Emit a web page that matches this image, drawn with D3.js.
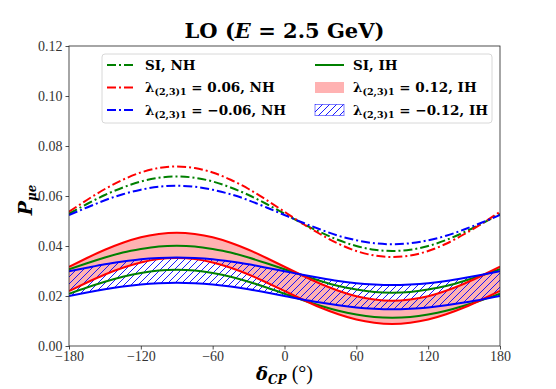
<!DOCTYPE html>
<html lang="en">
<head>
<meta charset="UTF-8" />
<title>LO (E = 2.5 GeV)</title>
<script src="https://d3js.org/d3.v7.min.js"></script>
<style>
  body { margin: 0; background: #fff; }
  svg { display: block; }
</style>
</head>
<body>
<svg id="chart"></svg>
<script>
// delta_CP grid (degrees)
const deltaCP = d3.range(-180, 181, 15);

// NH curves (dash-dot)
const siNH     = [.0529,.0568,.0604,.0634,.0658,.0673,.0678,.0673,.0658,.0634,.0604,.0568,.0529,.0490,.0455,.0424,.0400,.0385,.0380,.0385,.0400,.0424,.0455,.0490,.0529];
const lamPosNH = [.0537,.0584,.0628,.0665,.0694,.0712,.0718,.0712,.0694,.0665,.0628,.0584,.0537,.0490,.0447,.0409,.0380,.0362,.0356,.0362,.0380,.0409,.0447,.0490,.0537];
const lamNegNH = [.0524,.0554,.0583,.0607,.0625,.0637,.0641,.0637,.0625,.0607,.0583,.0554,.0524,.0494,.0466,.0441,.0423,.0411,.0407,.0411,.0423,.0441,.0466,.0494,.0524];

// IH curves (solid), two bounds each
const siIHUp   = [.0307,.0331,.0354,.0374,.0388,.0398,.0401,.0398,.0388,.0374,.0354,.0331,.0307,.0283,.0260,.0240,.0226,.0216,.0213,.0216,.0226,.0240,.0260,.0283,.0307];
const siIHLo   = [.0209,.0234,.0257,.0277,.0292,.0302,.0305,.0302,.0292,.0277,.0257,.0234,.0209,.0184,.0161,.0141,.0126,.0116,.0113,.0116,.0126,.0141,.0161,.0184,.0209];
const lamPosIHUp = [.0317,.0352,.0385,.0413,.0435,.0448,.0453,.0448,.0435,.0413,.0385,.0352,.0317,.0282,.0249,.0221,.0199,.0186,.0181,.0186,.0199,.0221,.0249,.0282,.0317];
const lamPosIHLo = [.0220,.0254,.0286,.0313,.0334,.0348,.0352,.0348,.0334,.0313,.0286,.0254,.0220,.0186,.0154,.0127,.0106,.0093,.0088,.0093,.0106,.0127,.0154,.0186,.0220];
const lamNegIHUp = [.0299,.0313,.0327,.0338,.0347,.0352,.0354,.0352,.0347,.0338,.0327,.0313,.0299,.0285,.0272,.0260,.0251,.0246,.0244,.0246,.0251,.0260,.0272,.0285,.0299];
const lamNegIHLo = [.0200,.0214,.0227,.0238,.0246,.0251,.0253,.0251,.0246,.0238,.0227,.0214,.0200,.0186,.0174,.0163,.0154,.0149,.0147,.0149,.0154,.0163,.0174,.0186,.0200];

const xTicks = [-180, -120, -60, 0, 60, 120, 180];
const yTicks = [0, 0.02, 0.04, 0.06, 0.08, 0.10, 0.12];

const W = 556, H = 389;
const margin = { top: 46, right: 56, bottom: 43, left: 69 };
const width = W - margin.left - margin.right;
const height = H - margin.top - margin.bottom;

const svgRoot = d3.select("#chart").attr("width", W).attr("height", H);
const defs = svgRoot.append("defs");

// hatch "//" pattern
const hatch = defs.append("pattern")
  .attr("id", "hatch")
  .attr("patternUnits", "userSpaceOnUse")
  .attr("width", 7).attr("height", 7);
hatch.append("path")
  .attr("d", "M-1,1 l2,-2 M0,7 l7,-7 M6,8 l2,-2")
  .attr("stroke", "#0000ff").attr("stroke-width", 0.9);

defs.append("clipPath").attr("id", "clip")
  .append("rect").attr("width", width).attr("height", height);

const svg = svgRoot.append("g")
  .attr("transform", `translate(${margin.left},${margin.top})`);

const x = d3.scaleLinear().domain([-180, 180]).range([0, width]);
const y = d3.scaleLinear().domain([0, 0.12]).range([height, 0]);

const boldFont = "DejaVu Serif";
const tickFont = "Liberation Serif";
const pts = arr => arr.map((v, i) => [deltaCP[i], v]);

const line = d3.line().x(d => x(d[0])).y(d => y(d[1])).curve(d3.curveNatural);
const band = (up, lo) => d3.area()
  .x((d, i) => x(deltaCP[i]))
  .y0((d, i) => y(lo[i]))
  .y1((d, i) => y(up[i]))
  .curve(d3.curveNatural)(up);

const plot = svg.append("g").attr("clip-path", "url(#clip)");

// bands
plot.append("path").attr("d", band(lamPosIHUp, lamPosIHLo))
  .attr("fill", "#ff0000").attr("fill-opacity", 0.3);
plot.append("path").attr("d", band(lamNegIHUp, lamNegIHLo))
  .attr("fill", "url(#hatch)");

const dashdot = "9,3,2,3";
const series = [
  { data: siNH, color: "green", dash: dashdot },
  { data: lamPosNH, color: "red", dash: dashdot },
  { data: lamNegNH, color: "blue", dash: dashdot },
  { data: siIHUp, color: "green", dash: null },
  { data: siIHLo, color: "green", dash: null },
  { data: lamPosIHUp, color: "red", dash: null },
  { data: lamPosIHLo, color: "red", dash: null },
  { data: lamNegIHUp, color: "blue", dash: null },
  { data: lamNegIHLo, color: "blue", dash: null }
];

series.forEach(s => {
  plot.append("path")
    .attr("d", line(pts(s.data)))
    .attr("fill", "none")
    .attr("stroke", s.color)
    .attr("stroke-width", 2)
    .attr("stroke-dasharray", s.dash);
});

// axes
const xAxis = svg.append("g").attr("transform", `translate(0,${height})`)
  .call(d3.axisBottom(x).tickValues(xTicks).tickSize(3.5).tickPadding(2)
    .tickFormat(d => d < 0 ? "\u2212" + Math.abs(d) : d));
const yAxis = svg.append("g")
  .call(d3.axisLeft(y).tickValues(yTicks).tickSize(3.5).tickPadding(3)
    .tickFormat(d3.format(".2f")));
[xAxis, yAxis].forEach(a => {
  a.attr("font-family", tickFont).attr("font-size", 14);
  a.select(".domain").remove();
  a.selectAll(".tick line").attr("stroke", "#222").attr("stroke-width", 0.8);
  a.selectAll(".tick text").attr("fill", "#333");
});

svg.append("rect").attr("width", width).attr("height", height)
  .attr("fill", "none").attr("stroke", "#222").attr("stroke-width", 0.8);

// title
svgRoot.append("text")
  .attr("x", margin.left + width / 2).attr("y", 38)
  .attr("text-anchor", "middle")
  .attr("font-family", boldFont).attr("font-weight", "bold").attr("font-size", 21)
  .call(t => {
    t.append("tspan").text("LO (");
    t.append("tspan").attr("font-style", "italic").text("E");
    t.append("tspan").text(" = 2.5 GeV)");
  });

// axis labels
svgRoot.append("text")
  .attr("x", margin.left + width / 2).attr("y", 380)
  .attr("text-anchor", "middle")
  .attr("font-family", boldFont).attr("font-weight", "bold").attr("font-size", 18)
  .call(t => {
    t.append("tspan").attr("font-style", "italic").text("\u03b4");
    t.append("tspan").attr("font-style", "italic").attr("font-size", 12).attr("dy", 4).text("CP");
    t.append("tspan").attr("dy", -4).attr("font-family", tickFont).attr("font-weight", "normal")
      .attr("font-size", 20).text(" (\u00b0)");
  });

svgRoot.append("text")
  .attr("transform", `translate(32,${margin.top + height / 2 + 4}) rotate(-90)`)
  .attr("text-anchor", "middle")
  .attr("font-family", boldFont).attr("font-weight", "bold").attr("font-style", "italic").attr("font-size", 19)
  .call(t => {
    t.append("tspan").text("P");
    t.append("tspan").attr("font-size", 12).attr("dy", 4).text("\u03bce");
  });

// legend
const lg = svgRoot.append("g");
lg.append("rect")
  .attr("x", 102).attr("y", 54).attr("width", 390).attr("height", 69)
  .attr("rx", 3).attr("fill", "#fff").attr("fill-opacity", 0.8)
  .attr("stroke", "#d8d8d8").attr("stroke-width", 1);

const lamLabel = (t, rest) => {
  t.append("tspan").text("\u03bb");
  t.append("tspan").attr("font-size", 9.5).attr("dy", 3).text("(2,3)1");
  t.append("tspan").attr("dy", -3).text(rest);
};

const legendItems = [
  { col: 0, row: 0, type: "dash", color: "green", label: t => t.text("SI, NH") },
  { col: 0, row: 1, type: "dash", color: "red", label: t => lamLabel(t, " = 0.06, NH") },
  { col: 0, row: 2, type: "dash", color: "blue", label: t => lamLabel(t, " = \u22120.06, NH") },
  { col: 1, row: 0, type: "solid", color: "green", label: t => t.text("SI, IH") },
  { col: 1, row: 1, type: "fill", color: "red", label: t => lamLabel(t, " = 0.12, IH") },
  { col: 1, row: 2, type: "hatch", color: "blue", label: t => lamLabel(t, " = \u22120.12, IH") }
];
const colX = [107, 315];
const rowY = [65, 87.5, 110];

legendItems.forEach(it => {
  const x0 = colX[it.col], yc = rowY[it.row];
  if (it.type === "dash" || it.type === "solid") {
    lg.append("line")
      .attr("x1", x0).attr("x2", x0 + 29).attr("y1", yc).attr("y2", yc)
      .attr("stroke", it.color).attr("stroke-width", 2)
      .attr("stroke-dasharray", it.type === "dash" ? dashdot : null);
  } else if (it.type === "fill") {
    lg.append("rect").attr("x", x0).attr("y", yc - 5.5).attr("width", 29).attr("height", 11)
      .attr("fill", "#ff0000").attr("fill-opacity", 0.3);
  } else {
    lg.append("rect").attr("x", x0).attr("y", yc - 5.5).attr("width", 29).attr("height", 11)
      .attr("fill", "url(#hatch)").attr("stroke", "#0000ff").attr("stroke-opacity", 0.5)
      .attr("stroke-width", 1);
  }
  lg.append("text")
    .attr("x", x0 + 38).attr("y", yc + 4.5)
    .attr("font-family", boldFont).attr("font-weight", "bold").attr("font-size", 13.5)
    .call(it.label);
});
</script>
</body>
</html>
